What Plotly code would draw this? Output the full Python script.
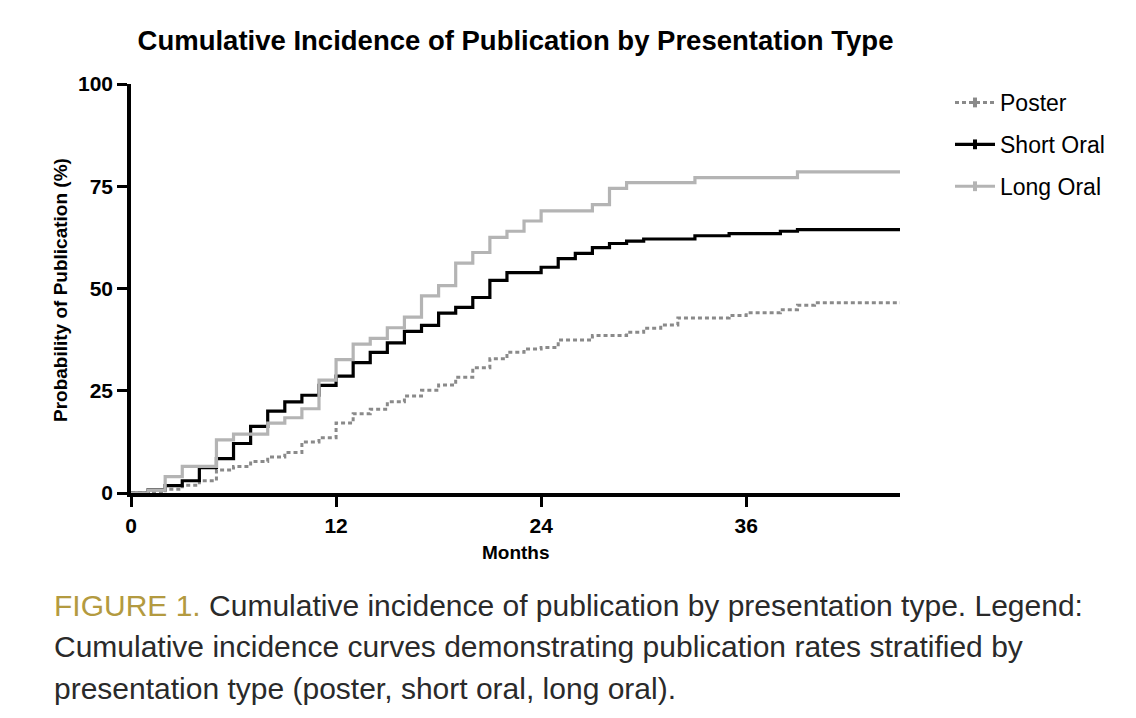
import plotly.graph_objects as go

# ---- data (months, cumulative incidence %) ----
poster_months = [0, 2, 3, 4, 5, 6, 7, 8, 9, 10, 11, 12, 13, 14, 15, 16, 17, 18, 19, 20,
                 21, 22, 23, 24, 25, 27, 29, 30, 31, 32, 35, 36, 38, 39, 40, 45]
poster_vals = [0, 0.9, 1.9, 3.0, 5.6, 6.5, 7.7, 8.8, 9.9, 12.5, 13.5, 17.1, 19.4, 20.5, 22.3,
               23.7, 25.1, 26.4, 28.3, 30.6, 32.8, 34.4, 35.2, 35.6, 37.4, 38.5, 39.3, 40.3,
               41.1, 42.8, 43.4, 44.1, 44.8, 45.9, 46.5, 46.5]

short_months = [0, 1, 2, 3, 4, 5, 6, 7, 8, 9, 10, 11, 12, 13, 14, 15, 16, 17, 18, 19, 20,
                21, 22, 24, 25, 26, 27, 28, 29, 30, 33, 35, 38, 39, 45]
short_vals = [0, 0.8, 1.8, 3.0, 6.2, 8.4, 12.1, 16.3, 20.0, 22.3, 23.9, 26.3, 28.6, 31.9,
              34.4, 36.7, 39.5, 41.0, 44.0, 45.4, 47.8, 52.0, 53.9, 55.2, 57.3, 58.6, 60.0,
              61.0, 61.6, 62.1, 62.9, 63.4, 64.0, 64.4, 64.4]

long_months = [0, 1, 2, 3, 5, 6, 8, 9, 10, 11, 12, 13, 14, 15, 16, 17, 18, 19, 20, 21, 22,
               23, 24, 27, 28, 29, 33, 39, 45]
long_vals = [0, 0.7, 4.0, 6.5, 13.0, 14.4, 17.1, 18.4, 20.6, 27.6, 32.6, 36.4, 37.8, 40.4,
             43.0, 48.2, 50.7, 56.2, 58.8, 62.5, 64.0, 66.5, 69.0, 70.5, 74.5, 75.9, 77.1,
             78.5, 78.5]

series_names = ["Poster", "Short Oral", "Long Oral"]
x_ticks = [0, 12, 24, 36]
y_ticks = [0, 25, 50, 75, 100]

title_text = "Cumulative Incidence of Publication by Presentation Type"
x_title = "Months"
y_title = "Probability of Publication (%)"
caption_lines = [
    "<span style='color:#b39a40'>FIGURE 1.</span> Cumulative incidence of publication by presentation type. Legend:",
    "Cumulative incidence curves demonstrating publication rates stratified by",
    "presentation type (poster, short oral, long oral).",
]

W, H = 1136, 718
OFF = 8  # page body margin
# plot area in page pixels (from reference)
PL, PR, PT, PB = 131, 900, 84, 493
L, T = PL - OFF, PT - OFF
pw, ph = PR - PL, PB - PT
R, B = W - L - pw, H - T - ph

def px_x(p):
    return (p - PL) / pw

def px_y(p):
    return (PB - p) / ph

fig = go.Figure()

styles = [
    dict(color="#8a8a8a", width=3, dash="4px,3px"),
    dict(color="#000000", width=3.2),
    dict(color="#b4b4b4", width=3.2),
]
data = [(poster_months, poster_vals), (short_months, short_vals), (long_months, long_vals)]

for name, (xs, ys), st in zip(series_names, data, styles):
    fig.add_trace(go.Scatter(
        x=xs, y=ys, mode="lines", line=dict(shape="hv", **st),
        name=name, showlegend=False, hoverinfo="skip",
    ))

# legend entries (line with a small tick, GraphPad style)
for name, st in zip(series_names, styles):
    fig.add_trace(go.Scatter(
        x=[None], y=[None], mode="lines+markers", name=name,
        line=st,
        marker=dict(symbol="line-ns", size=7, line=dict(width=4, color=st["color"])),
        legendgroup=name,
    ))

tick_font = dict(family="Liberation Sans", size=21, color="#000", weight="bold")
fig.update_xaxes(
    range=[0, 45], tickvals=x_ticks, ticktext=[str(v) for v in x_ticks],
    showline=True, linecolor="#000", linewidth=3.5, ticks="outside", ticklen=10,
    tickwidth=3, tickcolor="#000", showgrid=False, zeroline=False,
    tickfont=tick_font, ticklabelstandoff=1,
)
fig.update_yaxes(
    range=[0, 100], tickvals=y_ticks, ticktext=[str(v) for v in y_ticks],
    showline=True, linecolor="#000", linewidth=3.5, ticks="outside", ticklen=10,
    tickwidth=3, tickcolor="#000", showgrid=False, zeroline=False,
    tickfont=tick_font, ticklabelstandoff=0,
)

annotations = [
    dict(text=f"<b>{x_title}</b>", x=0.5, y=px_y(552), xref="paper", yref="paper",
         showarrow=False, font=dict(family="Liberation Sans", size=19, color="#000"),
         xanchor="center", yanchor="middle"),
    dict(text=f"<b>{y_title}</b>", x=px_x(60), y=px_y(290), xref="paper", yref="paper",
         showarrow=False, textangle=-90,
         font=dict(family="Liberation Sans", size=19, color="#000"),
         xanchor="center", yanchor="middle"),
]
for line, yc in zip(caption_lines, [605, 646, 688]):
    annotations.append(dict(
        text=line, x=px_x(52), y=px_y(yc), xref="paper", yref="paper",
        showarrow=False, xanchor="left", yanchor="middle", align="left",
        font=dict(family="Liberation Sans", size=30, color="#2a2a2a"),
    ))

fig.update_layout(
    width=W, height=H,
    margin=dict(l=L, r=R, t=T, b=B, pad=0),
    plot_bgcolor="white", paper_bgcolor="white",
    title=dict(text=f"<b>{title_text}</b>", x=(515.5 - OFF) / W,
               xanchor="center", y=1 - (40 - OFF) / H, yanchor="middle",
               font=dict(family="Liberation Sans", size=27.5, color="#000")),
    showlegend=True,
    legend=dict(x=px_x(950), y=px_y(81), xanchor="left", yanchor="top",
                font=dict(family="Liberation Sans", size=23, color="#000"),
                tracegroupgap=9, traceorder="grouped", itemwidth=40,
                bgcolor="rgba(0,0,0,0)"),
    annotations=annotations,
)

fig.write_html("out.html")
